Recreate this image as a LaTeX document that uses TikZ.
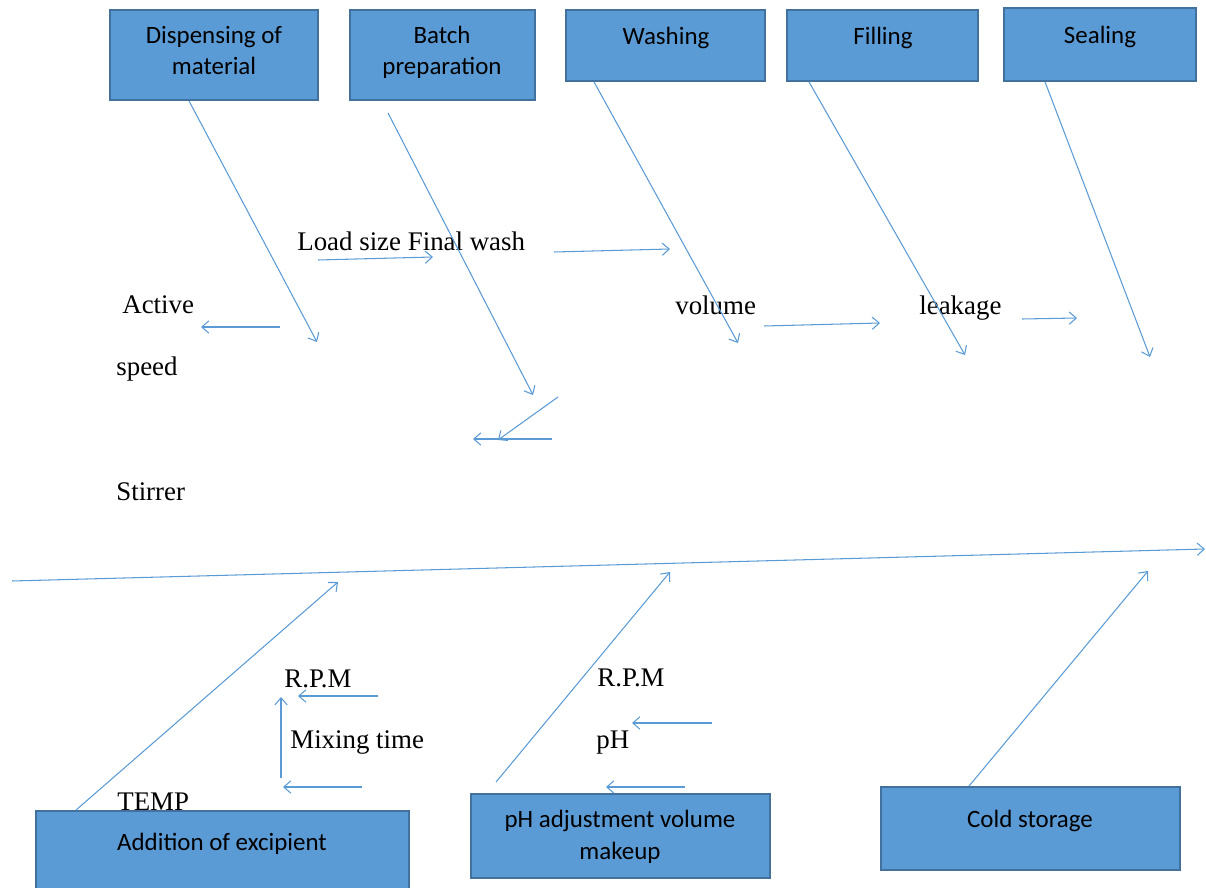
\documentclass[tikz,border=0pt]{standalone}
\usepackage{fontspec}
\setmainfont{Liberation Serif}
\newfontfamily\stagefont{Carlito}
\usetikzlibrary{arrows.meta,positioning,calc,fit}
\definecolor{bonecol}{HTML}{5B9BD5}
\definecolor{stagefill}{HTML}{5B9BD5}
\definecolor{stageline}{HTML}{41719C}

\begin{document}
\begin{tikzpicture}[
  x=0.02cm, y=-0.02cm,
  stage/.style={draw=stageline, fill=stagefill, line width=1.1pt, inner sep=0pt},
  stagetxt/.style={anchor=base, align=center, inner sep=0pt, font=\stagefont\fontsize{14.2}{18.1}\selectfont},
  cause/.style={anchor=base west, inner sep=0pt, font=\fontsize{15.3}{18}\selectfont},
  bone/.style={draw=bonecol, line width=0.6pt, -{Straight Barb[length=4pt,width=7pt]}}
]
\useasboundingbox (0,0) rectangle (1206,888);

% process stages
\node[stage, fit={(110,10) (318,100)}] (disp) {};
\node[stage, fit={(350,10) (535,100)}] (batch) {};
\node[stage, fit={(566,10) (765,81)}] (wash) {};
\node[stage, fit={(787,10) (978,81)}] (fill) {};
\node[stage, fit={(1004,8) (1196,81)}] (seal) {};
\node[stage, fit={(36,811) (409,900)}] (excip) {};
\node[stage, fit={(471,794) (770,878)}] (phadj) {};
\node[stage, fit={(881,787) (1180,870)}] (cold) {};

% two-line texts sit on the baseline of their last line
\node[stagetxt] (disp-t) at (214,75) {Dispensing of\\material};
\node[stagetxt] (batch-t) at (442,75) {Batch\\preparation};
\node[stagetxt] (wash-t) at (666,45) {Washing};
\node[stagetxt] (fill-t) at (883,45) {Filling};
\node[stagetxt] (seal-t) at (1100,44) {Sealing};
\node[stagetxt] (excip-t) at (222,850) {Addition of excipient};
\node[stagetxt] (phadj-t) at (620,859) {pH adjustment volume\\makeup};
\node[stagetxt] (cold-t) at (1030,827) {Cold storage};

% causes
\node[cause] (load) at (297,251) {Load size Final wash};
\node[cause] (active) at (122,314) {Active};
\node[cause] (speed) at (116,375) {speed};
\node[cause] (stirrer) at (116,500) {Stirrer};
\node[cause] (volume) at (675,315) {volume};
\node[cause] (leak) at (919,315) {leakage};
\node[cause] (rpm1) at (284,687) {R.P.M};
\node[cause] (mixing) at (290,748) {Mixing time};
\node[cause] (temp) at (117,810) {TEMP};
\node[cause] (rpm2) at (597,686) {R.P.M};
\node[cause] (ph) at (596,748) {pH};

% spine
\coordinate (tail) at (12,581);
\coordinate (head) at (1205,549);
\draw[bone] (tail) -- (head);

% bones from the stages
\coordinate (disp-e) at (317,342); \coordinate (batch-e) at (533,395);
\coordinate (wash-e) at (738,343); \coordinate (fill-e) at (965,355);
\coordinate (seal-e) at (1150,357);
\coordinate (excip-e) at (338,582); \coordinate (phadj-e) at (670,572);
\coordinate (cold-e) at (1148,571);
\draw[bone] ($(disp.south west)+(80,0)$) -- (disp-e);
\draw[bone] ($(batch.south west)+(39,12)$) -- (batch-e);
\draw[bone] ($(wash.south west)+(29,0)$) -- (wash-e);
\draw[bone] ($(fill.south west)+(23,0)$) -- (fill-e);
\draw[bone] ($(seal.south west)+(42,0)$) -- (seal-e);
\draw[bone] ($(excip.north west)+(41,0)$) -- (excip-e);
\draw[bone] ($(phadj.north west)+(26,-11)$) -- (phadj-e);
\draw[bone] ($(cold.north west)+(89,0)$) -- (cold-e);

% small arrows
\coordinate (a1) at (318,260); \coordinate (b1) at (433,257);
\coordinate (a2) at (554,252); \coordinate (b2) at (670,249);
\coordinate (a3) at (280,327); \coordinate (b3) at (201,327);
\coordinate (a4) at (764,326); \coordinate (b4) at (880,323);
\coordinate (a5) at (1022,319); \coordinate (b5) at (1077,318);
\coordinate (a6) at (558,397); \coordinate (b6) at (498,440);
\coordinate (a7) at (552,439); \coordinate (b7) at (473,439);
\coordinate (a8) at (378,696); \coordinate (b8) at (298,696);
\coordinate (a9) at (281,778); \coordinate (b9) at (281,697);
\coordinate (a10) at (362,787); \coordinate (b10) at (283,787);
\coordinate (a11) at (712,723); \coordinate (b11) at (632,723);
\coordinate (a12) at (685,787); \coordinate (b12) at (606,787);
\draw[bone] (a1) -- (b1); \draw[bone] (a2) -- (b2); \draw[bone] (a3) -- (b3);
\draw[bone] (a4) -- (b4); \draw[bone] (a5) -- (b5); \draw[bone] (a6) -- (b6);
\draw[bone] (a7) -- (b7); \draw[bone] (a8) -- (b8); \draw[bone] (a9) -- (b9);
\draw[bone] (a10) -- (b10); \draw[bone] (a11) -- (b11); \draw[bone] (a12) -- (b12);
\end{tikzpicture}
\end{document}
